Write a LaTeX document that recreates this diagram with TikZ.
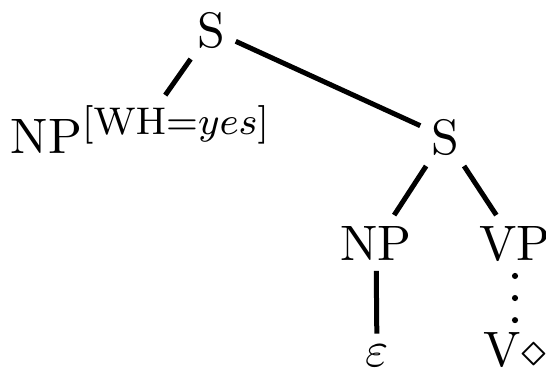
\documentclass[tikz,border=0pt]{standalone}
\usepackage{graphicx}
\begin{document}
\begin{tikzpicture}[x=0.22pt,y=-0.22pt,
  lbl/.style={inner sep=2.2pt,font=\fontsize{10.95}{13.6}\selectfont},
  edge/.style={line width=1.1pt},
  dotmark/.style={circle,fill=black,inner sep=0pt,minimum size=1.35pt}]
\useasboundingbox (0,0) rectangle (546,368);
\node[lbl,anchor=base] (s1) at (211,47) {S};
\node[lbl,anchor=base west] (np1) at (0,153) {NP$^{\scalebox{1.06}{$\scriptstyle[\mathrm{WH}=yes]$}}$};
\node[lbl,anchor=base] (s2) at (445,154) {S};
\node[lbl,anchor=base] (np2) at (376,260) {NP};
\node[lbl,anchor=base] (vp) at (515,260) {VP};
\node[lbl,anchor=base] (eps) at (377,366) {$\varepsilon$};
\node[lbl,anchor=base] (v) at (515,366) {V$\diamond$};
\draw[edge] (s1) -- (np1);
\draw[edge] (s1) -- (s2);
\draw[edge] (s2) -- (np2);
\draw[edge] (s2) -- (vp);
\draw[edge] (np2) -- (eps);
\path (vp.south) -- (vp.south |- v.north)
  node[dotmark,pos=0.08] {} node[dotmark,pos=0.53] {} node[dotmark,pos=0.98] {};
\end{tikzpicture}
\end{document}
